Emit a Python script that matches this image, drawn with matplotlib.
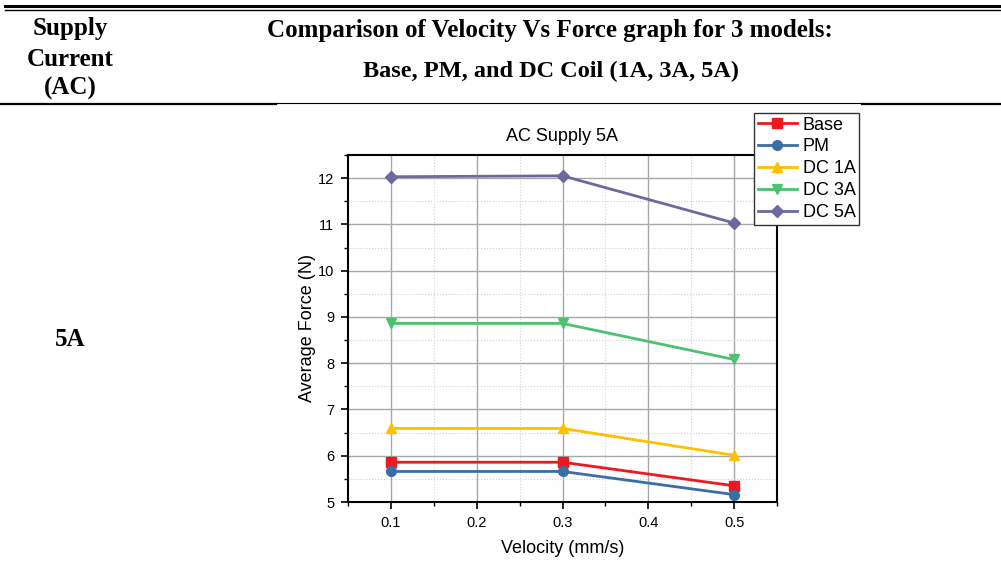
import matplotlib
matplotlib.use("Agg")
import matplotlib.pyplot as plt
from matplotlib.ticker import MultipleLocator
from matplotlib.lines import Line2D

velocity = [0.1, 0.3, 0.5]
base = [5.86, 5.86, 5.35]
pm = [5.66, 5.66, 5.16]
dc1a = [6.59, 6.59, 6.01]
dc3a = [8.86, 8.86, 8.08]
dc5a = [12.03, 12.05, 11.03]

series = [
    ("Base", base, "#F01820", "s"),
    ("PM", pm, "#3A6EA5", "o"),
    ("DC 1A", dc1a, "#FFC000", "^"),
    ("DC 3A", dc3a, "#4CC270", "v"),
    ("DC 5A", dc5a, "#6A6A9E", "D"),
]

W, H = 1001, 569
fig = plt.figure(figsize=(W / 100, H / 100), dpi=100)

def hline(x0, x1, y, lw):
    fig.add_artist(Line2D([x0 / W, x1 / W], [1 - y / H, 1 - y / H], color="black", lw=lw))

hline(5, 1001, 6.2, 2.2)
hline(5, 1001, 9.8, 1.0)
hline(0, 276, 103.8, 1.6)
hline(276, 862, 103.3, 0.8)
hline(862, 1001, 103.8, 1.6)

serif = ["Liberation Serif", "DejaVu Serif"]
for txt, y in [("Supply", 28), ("Current", 59), ("(AC)", 88)]:
    fig.text(70 / W, 1 - y / H, txt, ha="center", va="center", fontsize=18,
             fontweight="bold", family=serif)
fig.text(550 / W, 1 - 31 / H, "Comparison of Velocity Vs Force graph for 3 models:",
         ha="center", va="center", fontsize=18, fontweight="bold", family=serif)
fig.text(551 / W, 1 - 71 / H, "Base, PM, and DC Coil (1A, 3A, 5A)",
         ha="center", va="center", fontsize=17.5, fontweight="bold", family=serif)
fig.text(70 / W, 1 - 340 / H, "5A", ha="center", va="center", fontsize=18,
         fontweight="bold", family=serif)

sans = ["Liberation Sans", "DejaVu Sans"]
ax = fig.add_axes([348 / W, 1 - 502 / H, (777 - 348) / W, (502 - 155) / H])
for name, vals, col, mk in series:
    ax.plot(velocity, vals, color=col, marker=mk, ms=7 if mk != "D" else 6,
            lw=2.0, label=name)

ax.set_xlim(0.05, 0.55)
ax.set_ylim(5, 12.5)
ax.xaxis.set_major_locator(MultipleLocator(0.1))
ax.xaxis.set_minor_locator(MultipleLocator(0.05))
ax.yaxis.set_major_locator(MultipleLocator(1))
ax.yaxis.set_minor_locator(MultipleLocator(0.5))
ax.set_xticks([0.1, 0.2, 0.3, 0.4, 0.5])
ax.set_xticklabels(["0.1", "0.2", "0.3", "0.4", "0.5"])
ax.grid(which="major", color="#A8A8A8", lw=1.0)
ax.grid(which="minor", color="#D0D0D0", lw=0.8, ls=":")
ax.set_axisbelow(True)
ax.tick_params(which="major", direction="out", length=5, width=1.2, labelsize=10.5,
               top=False, right=False, pad=5)
ax.tick_params(which="minor", direction="out", length=3, width=1.0, top=False, right=False)
for lab in ax.get_xticklabels() + ax.get_yticklabels():
    lab.set_family(sans)
for sp in ax.spines.values():
    sp.set_linewidth(1.5)
ax.set_title("AC Supply 5A", fontsize=13, family=sans, pad=10)
ax.set_xlabel("Velocity (mm/s)", fontsize=13, family=sans, labelpad=7)
ax.set_ylabel("Average Force (N)", fontsize=13, family=sans, labelpad=1)

leg = ax.legend(loc="upper left", bbox_to_anchor=((754 - 348) / (777 - 348), (502 - 113) / (502 - 155)),
                prop={"family": sans, "size": 13}, frameon=True, fancybox=False,
                edgecolor="#333333", framealpha=1, handlelength=2.2, handletextpad=0.3,
                borderpad=0.2, labelspacing=0.27, borderaxespad=0)
leg.get_frame().set_linewidth(1.0)

fig.savefig("out.png", dpi=100)
